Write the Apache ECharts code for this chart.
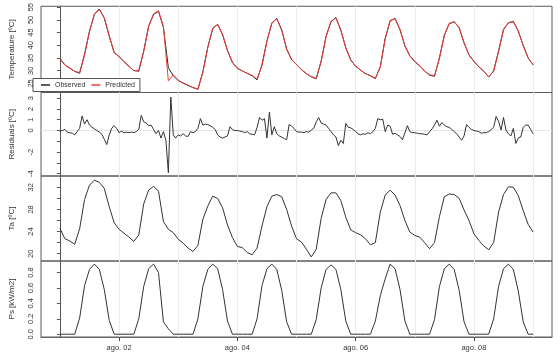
<!DOCTYPE html>
<html>
<head>
<meta charset="utf-8">
<script src="https://cdn.jsdelivr.net/npm/echarts@6/dist/echarts.min.js"></script>
<style>
html, body { margin: 0; padding: 0; background: #fff; }
#chart { width: 560px; height: 352px; }
</style>
</head>
<body>
<div id="chart"></div>
<script>
// hours since ago. 01 00:00
const hours2 = Array.from({ length: 97 }, (_, i) => i * 2)
const hours1 = Array.from({ length: 193 }, (_, i) => i)
const dayHours = [0, 24, 48, 72, 96, 120, 144, 168, 192]
const tickHours = [24, 72, 120, 168]
const tickLabels = ['ago. 02', 'ago. 04', 'ago. 06', 'ago. 08']

const tempObs = [
  34.8, 32.3, 31.0, 29.8, 29.0, 36.6, 45.6, 52.2, 54.3, 50.7, 43.6, 37.3,
  35.5, 33.6, 31.7, 30.1, 29.8, 37.8, 47.6, 52.1, 53.4, 47.0, 31.2, 28.0,
  26.2, 25.2, 24.2, 23.4, 22.7, 29.6, 39.3, 46.5, 48.3, 44.1, 38.0, 33.2,
  31.0, 29.9, 29.0, 28.0, 26.4, 32.4, 41.8, 48.6, 50.6, 45.9, 38.6, 34.3,
  32.5, 30.4, 28.9, 27.6, 26.8, 33.8, 43.6, 49.3, 50.9, 45.8, 39.1, 34.2,
  31.8, 30.2, 28.9, 28.0, 26.9, 31.6, 42.8, 49.6, 50.6, 46.1, 39.8, 35.8,
  33.6, 31.9, 29.9, 28.3, 27.8, 35.1, 44.1, 48.5, 49.3, 46.9, 41.0, 36.2,
  33.7, 31.5, 29.8, 27.5, 30.0, 37.8, 46.3, 48.8, 49.4, 45.5, 40.0, 35.0,
  32.3
]
const tempPred = [
  34.9, 32.2, 31.1, 29.7, 29.3, 36.2, 45.3, 52.4, 54.0, 50.9, 43.8, 37.0,
  35.6, 33.5, 31.8, 30.0, 30.1, 37.5, 47.3, 52.4, 53.6, 47.4, 26.0, 28.4,
  26.3, 25.0, 24.4, 23.3, 22.9, 29.2, 39.0, 46.8, 48.1, 44.4, 37.8, 33.4,
  30.9, 30.0, 28.9, 28.2, 26.7, 32.0, 41.5, 48.9, 50.4, 46.2, 38.4, 34.5,
  32.4, 30.5, 28.8, 27.7, 27.0, 33.5, 43.3, 49.5, 50.7, 46.1, 38.9, 34.4,
  31.7, 30.3, 28.8, 28.1, 27.1, 31.3, 42.5, 49.8, 50.4, 46.3, 39.6, 35.9,
  33.5, 32.0, 29.8, 28.4, 28.1, 34.8, 43.8, 48.7, 49.1, 47.1, 40.8, 36.3,
  33.6, 31.6, 29.7, 27.7, 29.7, 37.5, 46.0, 49.0, 49.2, 45.7, 39.8, 35.1,
  32.4
]
const residuals = [
  -0.05, 0.0, 0.1, -0.15, -0.2, -0.25, -0.4, -0.1, 0.2, 1.35,
  0.6, 1.0, 0.5, 0.3, 0.15, 0.0, -0.15, -0.35, -0.8, -1.3,
  -0.4, 0.2, 0.45, 0.2, -0.2, -0.05, -0.2, -0.15, -0.2, -0.15,
  -0.2, -0.1, 0.1, 1.4, 0.8, 0.7, 0.45, 0.5, 0.1, -0.3,
  0.0, -0.7, -0.1, -0.9, -3.9, 3.1, -0.4, -0.7, -0.4, -0.5,
  -0.3, -0.5, -0.55, -0.1, -0.2, -0.1, 0.2, 1.1, 0.5, 0.6,
  0.55, 0.45, 0.3, 0.1, -0.4, -0.6, -0.7, -0.6, -0.5, 0.35,
  0.1, 0.0, 0.0, -0.05, -0.1, -0.2, -0.1, -0.3, -0.35, -0.4,
  0.3, 1.2, 0.95, 1.1, -0.7, 1.7, -0.4, 0.35, -0.3, -0.5,
  -0.6, -0.75, -0.85, 0.55, 0.4, 0.2, -0.1, -0.15, -0.15, -0.2,
  -0.1, -0.15, 0.05, 0.2, 0.8, 1.2, 0.7, 0.6, 0.5, 0.2,
  -0.1, -0.4, -0.6, -1.4, -0.9, -1.2, 0.65, 0.3, 0.25, 0.1,
  -0.1, -0.3, -0.4, -0.3, -0.35, -0.2, -0.3, -0.1, 0.2, 1.1,
  1.0, 1.05, -0.1, 0.5, 0.4, -0.35, -0.25, -0.4, -0.55, -0.85,
  -0.2, 0.45, -0.1, -0.2, -0.2, -0.25, -0.3, -0.3, -0.35, -0.4,
  -0.1, 0.15, 0.5, 0.95, 0.4, 0.75, 0.5, 0.35, 0.3, 0.1,
  -0.1, -0.3, -0.6, -0.9, -0.5, 0.55, 0.3, 0.1, 0.0, -0.05,
  -0.1, -0.25, -0.2, -0.2, -0.1, 0.1, 0.3, 1.3, 0.85, 0.05,
  1.2, 0.05, -0.3, -0.5, 0.2, -1.2, -0.7, -0.6, 0.3, 0.5,
  0.5, 0.1, -0.3
]
const ta = [
  24.6, 22.7, 22.3, 21.7, 24.5, 29.8, 32.4, 33.3, 32.9, 31.8, 28.5, 25.6,
  24.4, 23.7, 23.0, 22.2, 23.4, 29.0, 31.5, 32.2, 31.3, 25.8, 24.4, 23.8,
  22.6, 21.9, 21.0, 20.4, 21.5, 26.2, 28.6, 30.4, 30.0, 28.3, 25.2, 22.9,
  21.3, 21.1, 20.2, 19.8, 21.0, 25.0, 28.5, 30.4, 30.7, 30.3, 28.0, 25.0,
  22.7, 22.1, 20.8, 19.4, 20.8, 26.4, 29.8, 31.0, 31.0, 29.6, 26.6, 24.3,
  23.8, 23.4, 22.7, 21.6, 22.0, 27.5, 30.6, 31.5, 30.6, 28.7, 26.0, 23.9,
  23.3, 23.0, 22.0, 20.9, 22.0, 26.7, 30.3, 30.8, 30.7, 30.0, 27.9, 26.0,
  23.6, 22.4, 21.4, 20.7, 22.0, 27.5, 30.7, 32.1, 32.0, 30.5, 27.8, 25.3,
  23.9
]
const ps = [
  0, 0, 0, 0, 0.21, 0.63, 0.84, 0.91, 0.84, 0.58, 0.18, 0,
  0, 0, 0, 0, 0.2, 0.62, 0.85, 0.91, 0.8, 0.16, 0.07, 0,
  0, 0, 0, 0, 0.2, 0.62, 0.84, 0.91, 0.85, 0.58, 0.17, 0,
  0, 0, 0, 0, 0.2, 0.63, 0.85, 0.91, 0.84, 0.57, 0.16, 0,
  0, 0, 0, 0, 0.19, 0.6, 0.84, 0.9, 0.84, 0.58, 0.17, 0,
  0, 0, 0, 0, 0.17, 0.5, 0.72, 0.91, 0.85, 0.58, 0.17, 0,
  0, 0, 0, 0, 0.19, 0.62, 0.85, 0.91, 0.84, 0.57, 0.16, 0,
  0, 0, 0, 0, 0.2, 0.62, 0.85, 0.91, 0.84, 0.56, 0.16, 0,
  0
]

const font = 'Liberation Sans, Arial, sans-serif'
const xMin = -7.68
const xMax = 199.68

const pair = (xs, ys) => xs.map((x, i) => [x, ys[i]])

const panels = [
  { top: 3, height: 89.5, name: 'Temperature [ºC]', min: 21.44, max: 55.36,
    ticks: [25, 30, 35, 40, 45, 50, 55], labels: [25, 30, 35, 40, 45, 50, 55] },
  { top: 92.5, height: 83.5, name: 'Residuals [ºC]', min: -4.21, max: 3.52,
    ticks: [-4, -3, -2, -1, 0, 1, 2, 3], labels: [-4, -2, 0, 1, 2, 3] },
  { top: 176, height: 85, name: 'Ta [ºC]', min: 18.67, max: 34.05,
    ticks: [20, 22, 24, 26, 28, 30, 32], labels: [20, 24, 28, 32] },
  { top: 261, height: 76, name: 'Ps [kW/m2]', min: -0.0365, max: 0.95,
    ticks: [0, 0.2, 0.4, 0.6, 0.8], labels: [0, 0.2, 0.4, 0.6, 0.8], fmt: v => v.toFixed(1) }
]

const grid = panels.map(p => ({
  left: 33, right: 8, top: p.top, height: p.height,
  show: true, borderColor: '#5a5a5a', borderWidth: 1
}))

const xAxis = panels.map((p, i) => ({
  type: 'value', gridIndex: i, min: xMin, max: xMax,
  axisLine: { show: false },
  axisTick: { show: false, customValues: dayHours },
  axisLabel: { show: false },
  splitLine: { show: true, lineStyle: { color: '#ececec', width: 1 } }
}))
xAxis.push({
  type: 'value', gridIndex: 3, position: 'bottom', min: xMin, max: xMax,
  axisLine: { show: true, lineStyle: { color: '#666', width: 1 } },
  axisTick: { show: true, length: 4, customValues: tickHours, lineStyle: { color: '#444' } },
  axisLabel: {
    customValues: tickHours, margin: 7, fontSize: 7.5, fontFamily: font, color: '#333',
    formatter: v => tickLabels[tickHours.indexOf(v)]
  },
  splitLine: { show: false }
})

const yAxis = panels.map((p, i) => ({
  type: 'value', gridIndex: i, min: p.min, max: p.max, position: 'left',
  name: p.name, nameLocation: 'middle', nameGap: 25, nameRotate: 90,
  nameTextStyle: { fontSize: 8, fontFamily: font, color: '#333' },
  axisLine: { show: true, lineStyle: { color: '#555', width: 1 } },
  axisTick: { show: true, length: 3, customValues: p.ticks, lineStyle: { color: '#555' } },
  axisLabel: {
    customValues: p.labels, rotate: 90, margin: 6, fontSize: 7.5, fontFamily: font, color: '#333',
    formatter: p.fmt || (v => String(v))
  },
  splitLine: { show: false }
}))
// faint zero line in the residuals panel
yAxis.push({
  type: 'value', gridIndex: 1, min: panels[1].min, max: panels[1].max, position: 'left',
  axisLine: { show: false },
  axisTick: { show: false, customValues: [0] },
  axisLabel: { show: false },
  splitLine: { show: true, lineStyle: { color: '#e4e4e4', width: 1 } }
})

const lineSeries = (name, xi, yi, data, color) => ({
  name, type: 'line', xAxisIndex: xi, yAxisIndex: yi, data,
  symbol: 'none', color, lineStyle: { color, width: 1 }
})

const option = {
  animation: false,
  grid,
  xAxis,
  yAxis,
  legend: {
    data: ['Observed', 'Predicted'],
    icon: 'rect',
    left: 33, top: 78.5,
    padding: [3, 5, 3, 8],
    itemGap: 6, itemWidth: 9, itemHeight: 1.5,
    backgroundColor: '#fff', borderColor: '#555', borderWidth: 1, borderRadius: 0,
    textStyle: { fontSize: 7, fontFamily: font, color: '#333' }
  },
  series: [
    lineSeries('Observed', 0, 0, pair(hours2, tempObs), '#222'),
    lineSeries('Predicted', 0, 0, pair(hours2, tempPred), '#f03c3c'),
    lineSeries('Residuals', 1, 1, pair(hours1, residuals), '#333'),
    lineSeries('Ta', 2, 2, pair(hours2, ta), '#333'),
    lineSeries('Ps', 3, 3, pair(hours2, ps), '#333')
  ]
}

const chart = echarts.init(document.getElementById('chart'))
chart.setOption(option)
</script>
</body>
</html>
